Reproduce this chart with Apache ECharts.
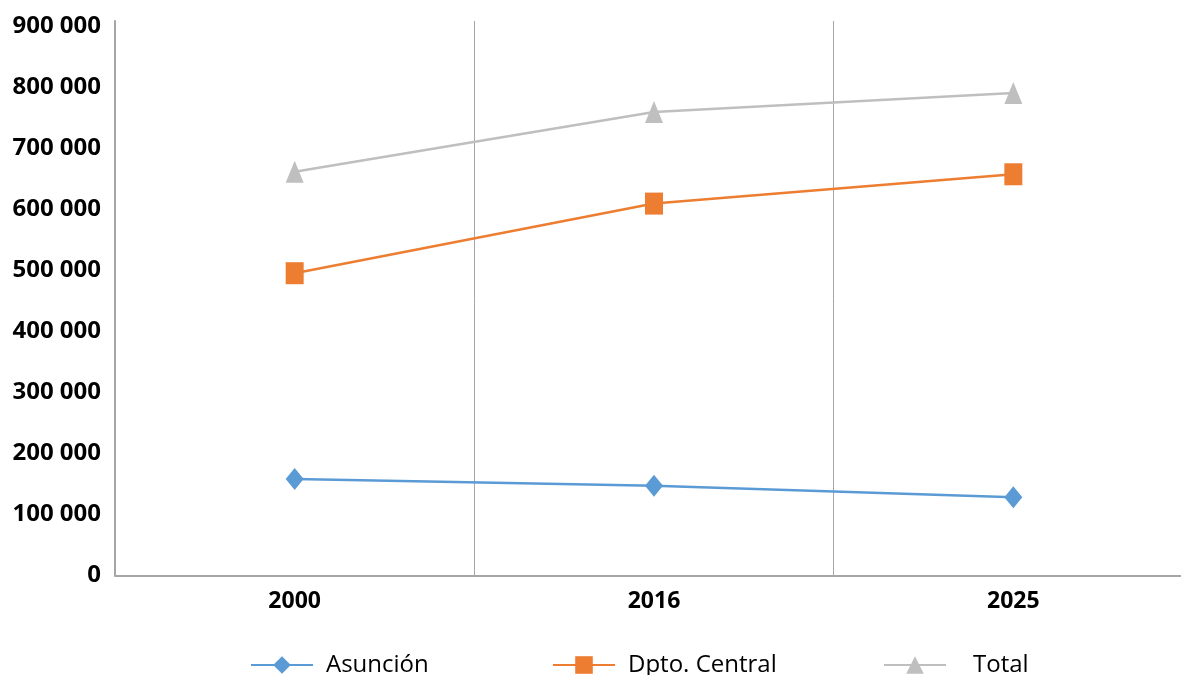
<!DOCTYPE html>
<html>
<head>
<meta charset="utf-8">
<script src="https://cdn.jsdelivr.net/npm/echarts@6/dist/echarts.min.js"></script>
<style>
  html, body { margin: 0; padding: 0; background: #ffffff; }
  #chart { width: 1181px; height: 675px; }
</style>
</head>
<body>
<div id="chart"></div>
<script>
// Population by year
const years = ['2000', '2016', '2025'];
const asuncion = [158000, 147000, 128000];
const dptoCentral = [495000, 609000, 657000];
const total = [661000, 759000, 790000];

const seriesNames = ['Asunción', 'Dpto. Central', 'Total'];
const seriesColors = ['#5B9BD5', '#ED7D31', '#BFBFBF'];
const seriesSymbols = ['diamond', 'rect', 'triangle'];
const seriesValues = [asuncion, dptoCentral, total];

const fontFamily = '"Open Sans", "Liberation Sans", sans-serif';
const axisGrey = '#a6a6a6';

function formatThousands(v) {
  return String(v).replace(/\B(?=(\d{3})+(?!\d))/g, ' ');
}

// one legend block per series, laid out along the bottom
const legendLeft = [245, 547, 878];
const legendTextGap = [8, 8, 22];

const chart = echarts.init(document.getElementById('chart'), null, { renderer: 'canvas' });

chart.setOption({
  backgroundColor: '#ffffff',
  animation: false,
  grid: {
    left: 115, width: 1078, top: 21, bottom: 99.5,
    containLabel: false,
    outerBoundsMode: 'none'
  },
  legend: seriesNames.map((name, i) => ({
    data: [name],
    left: legendLeft[i],
    top: 648,
    itemWidth: 62,
    itemHeight: 22,
    textStyle: {
      fontFamily: fontFamily,
      fontSize: 24,
      color: '#000000',
      padding: [0, 0, 0, legendTextGap[i]]
    }
  })),
  xAxis: {
    type: 'category',
    data: years,
    boundaryGap: true,
    axisLine: { show: true, lineStyle: { color: axisGrey, width: 2 } },
    axisTick: { show: false },
    splitLine: { show: true, interval: 0, lineStyle: { color: axisGrey, width: 1 } },
    axisLabel: {
      interval: 0,
      margin: 14,
      fontFamily: fontFamily,
      fontSize: 23,
      fontWeight: 'bold',
      color: '#000000'
    }
  },
  yAxis: {
    type: 'value',
    min: 0,
    max: 908000,
    interval: 100000,
    axisLine: { show: true, lineStyle: { color: axisGrey, width: 2 } },
    axisTick: { show: false },
    splitLine: { show: false },
    axisLabel: {
      showMaxLabel: false,
      margin: 14,
      fontFamily: fontFamily,
      fontSize: 24,
      fontWeight: 'bold',
      color: '#000000',
      formatter: formatThousands
    }
  },
  series: seriesNames.map((name, i) => ({
    name: name,
    type: 'line',
    data: seriesValues[i],
    symbol: seriesSymbols[i],
    symbolSize: [18, 22],
    showAllSymbol: true,
    itemStyle: { color: seriesColors[i] },
    lineStyle: { color: seriesColors[i], width: 2.5 },
    z: 2 + i
  }))
});
</script>
</body>
</html>
